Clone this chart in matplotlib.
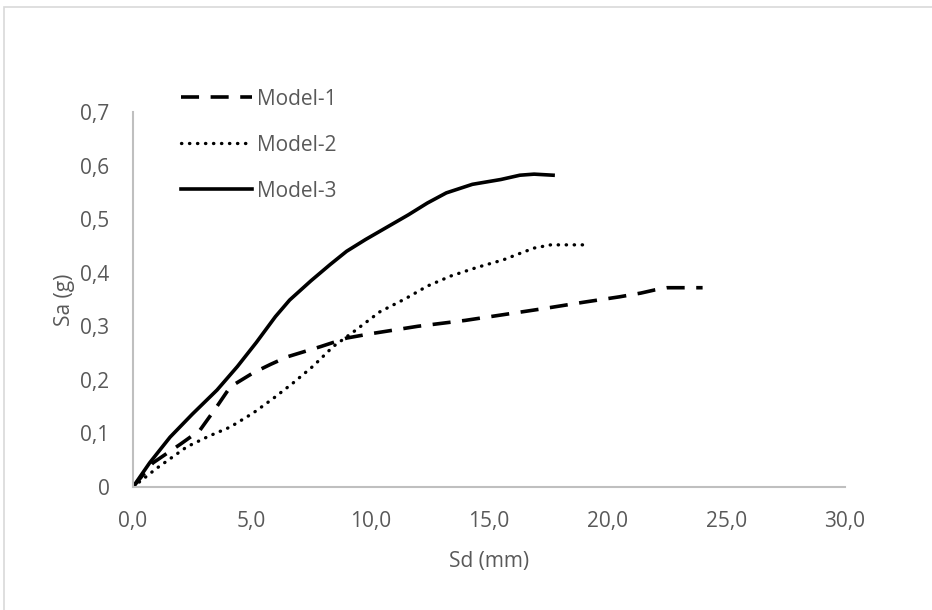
import matplotlib.pyplot as plt
from matplotlib.patches import Rectangle
from matplotlib.ticker import FuncFormatter

# Sd (mm) / Sa (g) capacity curves
model1_sd = [0, 0.84, 2.0, 2.82, 3.5, 4.1, 5.06, 5.8, 6.5, 7.9, 9.0, 10.0, 12.0, 14.0,
             15.5, 17.3, 19.0, 20.5, 21.4, 22.0, 22.5, 24.0]
model1_sa = [0, 0.045, 0.08, 0.106, 0.148, 0.187, 0.213, 0.229, 0.243, 0.262, 0.278, 0.286,
             0.300, 0.311, 0.321, 0.333, 0.345, 0.355, 0.362, 0.368, 0.372, 0.372]

model2_sd = [0, 1.0, 2.27, 3.2, 4.1, 5.06, 5.9, 6.74, 7.6, 8.43, 9.3, 10.4, 11.5, 12.4,
             13.4, 14.5, 15.6, 16.3, 16.9, 17.6, 19.0]
model2_sa = [0, 0.035, 0.075, 0.095, 0.112, 0.138, 0.165, 0.194, 0.226, 0.262, 0.290, 0.327,
             0.352, 0.375, 0.394, 0.410, 0.424, 0.436, 0.446, 0.452, 0.452]

model3_sd = [0, 0.7, 1.56, 2.5, 3.54, 4.4, 5.2, 6.0, 6.6, 7.5, 8.3, 9.0, 9.8, 10.7, 11.6,
             12.4, 13.2, 14.3, 15.5, 16.3, 16.9, 17.7]
model3_sa = [0, 0.045, 0.093, 0.136, 0.181, 0.225, 0.270, 0.318, 0.349, 0.385, 0.415, 0.440,
             0.462, 0.485, 0.508, 0.530, 0.549, 0.565, 0.574, 0.582, 0.584, 0.582]

labels = ["Model-1", "Model-2", "Model-3"]
x_ticks = [0, 5, 10, 15, 20, 25, 30]
y_ticks = [0, 0.1, 0.2, 0.3, 0.4, 0.5, 0.6, 0.7]

TEXT = "#595959"
FS = 15
plt.rcParams["font.family"] = ["Open Sans", "DejaVu Sans"]

fig = plt.figure(figsize=(9.32, 6.10), dpi=100)
ax = fig.add_axes([133 / 932, 1 - 487 / 610, (845 - 133) / 932, (487 - 112) / 610])

ax.plot(model1_sd, model1_sa, color="black", lw=2.6, ls=(0, (5.0, 3.2)),
        solid_joinstyle="round", label=labels[0])
ax.plot(model2_sd, model2_sa, color="black", lw=2.4, ls=(0, (0.1, 2.3)),
        dash_capstyle="round", label=labels[1])
ax.plot(model3_sd, model3_sa, color="black", lw=2.6, solid_joinstyle="round",
        label=labels[2])

ax.set_xlim(0, 30)
ax.set_ylim(0, 0.7)
ax.set_xticks(x_ticks)
ax.set_yticks(y_ticks)
ax.xaxis.set_major_formatter(FuncFormatter(lambda v, p: f"{v:.1f}".replace(".", ",")))
ax.yaxis.set_major_formatter(FuncFormatter(
    lambda v, p: "0" if v == 0 else f"{v:.1f}".replace(".", ",")))
ax.tick_params(length=0, labelsize=FS, labelcolor=TEXT)
ax.tick_params(axis="x", pad=17)
ax.tick_params(axis="y", pad=17)
for s in ["top", "right"]:
    ax.spines[s].set_visible(False)
for s in ["left", "bottom"]:
    ax.spines[s].set_color("#bfbfbf")
    ax.spines[s].set_linewidth(1.5)

ax.set_xlabel("Sd (mm)", fontsize=FS, color=TEXT, labelpad=14)
ax.set_ylabel("Sa (g)", fontsize=FS, color=TEXT, labelpad=4)

fig.legend(loc="upper left", bbox_to_anchor=(162 / 932, 1 - 70 / 610),
           frameon=False, fontsize=FS, labelcolor=TEXT, handlelength=3.4,
           handletextpad=0.25, labelspacing=1.2)

fig.patches.append(Rectangle((4 / 932, -0.5), 2, 0.5 + 1 - 7 / 610,
                             transform=fig.transFigure, fill=False,
                             edgecolor="#d9d9d9", lw=1.2))

fig.savefig("out.png", dpi=100)
